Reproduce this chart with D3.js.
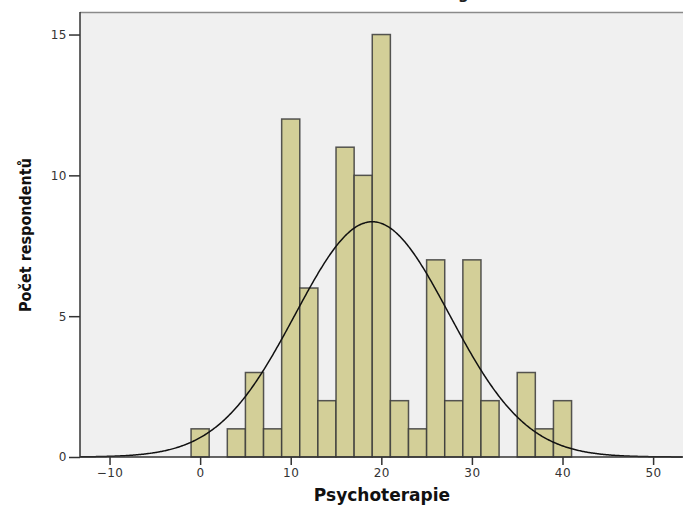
<!DOCTYPE html>
<html>
<head>
<meta charset="utf-8">
<script src="https://cdn.jsdelivr.net/npm/d3@7"></script>
<style>
  body { margin: 0; background: #fff; }
  text { font-family: "DejaVu Sans", sans-serif; }
</style>
</head>
<body>
<svg id="chart"></svg>
<script>
// Width and height of svg
var width = 683;
var height = 507;

// histogram bins (centre of each bin, width 2) and counts
var binCenters = [0, 2, 4, 6, 8, 10, 12, 14, 16, 18, 20, 22, 24, 26, 28, 30, 32, 34, 36, 38, 40];
var counts     = [1, 0, 1, 3, 1, 12, 6, 2, 11, 10, 15, 2, 1, 7, 2, 7, 2, 0, 3, 1, 2];
var binWidth = 2;

// fitted normal curve
var curveMean = 19.0;
var curveSd = 8.5;
var curveN = 89;

var xTicks = [-10, 0, 10, 20, 30, 40, 50];
var yTicks = [0, 5, 10, 15];

var margin = {top: 12, right: 0, bottom: 50, left: 80};

var x = d3.scaleLinear()
          .domain([-13.26, 53.3])
          .range([margin.left, width]);

var y = d3.scaleLinear()
          .domain([0, 15.8])
          .range([height - margin.bottom, margin.top]);

var svg = d3.select("#chart")
            .attr("width", width)
            .attr("height", height);

// plot background
svg.append("rect")
  .attr("x", margin.left)
  .attr("y", margin.top)
  .attr("width", width - margin.left)
  .attr("height", y(0) - margin.top)
  .style("fill", "#f0f0f0");

// top frame line
svg.append("line")
  .attr("x1", margin.left).attr("x2", width)
  .attr("y1", margin.top + 0.5).attr("y2", margin.top + 0.5)
  .style("stroke", "#8a8a8a")
  .style("stroke-width", 1.5);

// title (cut off by the top of the picture, as in the original)
svg.append("text")
  .attr("x", 458)
  .attr("y", -1)
  .attr("text-anchor", "middle")
  .style("font-size", "15px")
  .style("font-weight", "bold")
  .style("fill", "#222")
  .text("Histogram");

// bars
svg.selectAll("rect.bar")
  .data(binCenters)
  .enter()
  .append("rect")
  .attr("class", "bar")
  .filter(function(d, i) { return counts[i] > 0; })
  .attr("x", function(d) { return x(d - binWidth / 2); })
  .attr("width", function(d) { return x(d + binWidth / 2) - x(d - binWidth / 2); })
  .attr("y", function(d) { return y(counts[binCenters.indexOf(d)]); })
  .attr("height", function(d) { return y(0) - y(counts[binCenters.indexOf(d)]); })
  .style("fill", "#d3cf98")
  .style("stroke", "#3a3a3a")
  .style("stroke-opacity", 0.85)
  .style("stroke-width", 1.5);

// normal curve
var curveXs = d3.range(-13.26, 53.3, 0.1);
var line = d3.line()
  .x(function(d) { return x(d); })
  .y(function(d) {
    var z = (d - curveMean) / curveSd;
    var dens = Math.exp(-0.5 * z * z) / (curveSd * Math.sqrt(2 * Math.PI));
    return y(dens * curveN * binWidth);
  })
  .curve(d3.curveBasis);

svg.append("path")
  .datum(curveXs)
  .attr("d", line)
  .style("fill", "none")
  .style("stroke", "#111")
  .style("stroke-width", 1.5);

// x axis
var xAxis = svg.append("g")
  .attr("transform", "translate(0," + y(0) + ")")
  .call(d3.axisBottom(x).tickValues(xTicks).tickSize(8).tickPadding(3)
        .tickFormat(function(d) { return d < 0 ? "\u2212" + Math.abs(d) : d; }));
xAxis.select(".domain").remove();
xAxis.append("line")
  .attr("x1", margin.left).attr("x2", width)
  .style("stroke", "#333").style("stroke-width", 1.5);

// y axis
var yAxis = svg.append("g")
  .attr("transform", "translate(" + margin.left + ",0)")
  .call(d3.axisLeft(y).tickValues(yTicks).tickSize(11).tickPadding(2));
yAxis.select(".domain").remove();
yAxis.append("line")
  .attr("y1", margin.top).attr("y2", y(0))
  .style("stroke", "#333").style("stroke-width", 1.5);

svg.selectAll(".tick line").style("stroke", "#333").style("stroke-width", 1.5);
svg.selectAll(".tick text")
  .style("font-family", "DejaVu Sans, sans-serif")
  .style("font-size", "12px")
  .style("letter-spacing", "0.5px")
  .style("fill", "#333");

// axis titles
svg.append("text")
  .attr("x", 382)
  .attr("y", 501)
  .attr("text-anchor", "middle")
  .style("font-size", "17px")
  .style("font-weight", "bold")
  .style("fill", "#111")
  .text("Psychoterapie");

svg.append("text")
  .attr("transform", "translate(31,235)rotate(-90)")
  .attr("text-anchor", "middle")
  .style("font-family", "DejaVu Sans Condensed, DejaVu Sans, sans-serif")
  .style("font-size", "16px")
  .style("font-weight", "bold")
  .style("fill", "#111")
  .text("Počet respondentů");
</script>
</body>
</html>
